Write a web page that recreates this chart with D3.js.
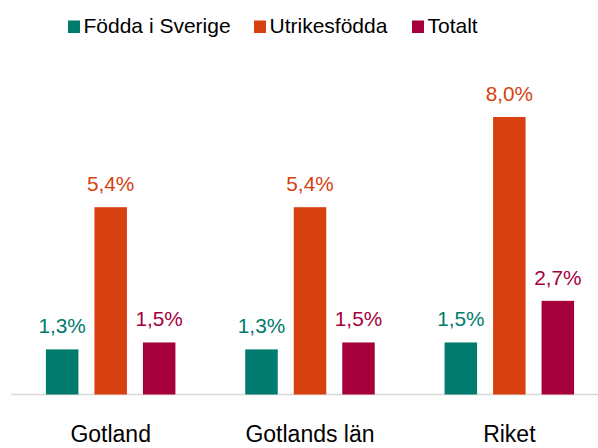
<!DOCTYPE html>
<html>
<head>
<meta charset="utf-8">
<script src="https://cdn.jsdelivr.net/npm/d3@7"></script>
<style>
  body { margin: 0; background: #fff; }
  text { font-family: "Liberation Sans", Arial, sans-serif; }
</style>
</head>
<body>
<svg id="chart" width="598" height="448"></svg>
<script>
const categories = ["Gotland", "Gotlands län", "Riket"];
const seriesNames = ["Födda i Sverige", "Utrikesfödda", "Totalt"];
const fodda = [1.3, 1.3, 1.5];
const utrikes = [5.4, 5.4, 8.0];
const totalt = [1.5, 1.5, 2.7];
const colors = ["#007B6E", "#D7410F", "#A6003C"];

const series = [fodda, utrikes, totalt];
const svg = d3.select("#chart");

const baseline = 394.5;
const x = d3.scaleBand().domain(categories).range([11, 609]);
// inner band for the three bars of a group
const groupW = 129.5;
const xInner = d3.scaleBand().domain(seriesNames).range([0, groupW]).paddingInner(0.33);
const y = d3.scaleLinear().domain([0, 8]).range([baseline, 117]);

// axis line
svg.append("line")
  .attr("x1", 11).attr("x2", 598)
  .attr("y1", baseline).attr("y2", baseline)
  .attr("stroke", "#d9d9d9").attr("stroke-width", 1.5);

const groups = svg.selectAll("g.grp")
  .data(categories)
  .join("g")
  .attr("class", "grp")
  .attr("transform", d => `translate(${x(d) + x.bandwidth() / 2 - groupW / 2},0)`);

seriesNames.forEach((s, si) => {
  groups.append("rect")
    .attr("x", xInner(s))
    .attr("width", xInner.bandwidth())
    .attr("y", (d, i) => y(series[si][i]))
    .attr("height", (d, i) => baseline - y(series[si][i]))
    .attr("fill", colors[si]);
  groups.append("text")
    .attr("x", xInner(s) + xInner.bandwidth() / 2)
    .attr("y", (d, i) => y(series[si][i]) - 16)
    .attr("text-anchor", "middle")
    .attr("font-size", "20.8px")
    .attr("fill", colors[si])
    .text((d, i) => series[si][i].toFixed(1).replace(".", ",") + "%");
});

// category labels
svg.selectAll("text.cat")
  .data(categories)
  .join("text")
  .attr("class", "cat")
  .attr("x", d => x(d) + x.bandwidth() / 2)
  .attr("y", 442)
  .attr("text-anchor", "middle")
  .attr("font-size", "23px")
  .attr("fill", "#000")
  .text(d => d);

// legend
const legendX = [68, 254, 412];
const legend = svg.selectAll("g.leg")
  .data(seriesNames)
  .join("g")
  .attr("class", "leg")
  .attr("transform", (d, i) => `translate(${legendX[i]},0)`);
legend.append("rect")
  .attr("x", 0).attr("y", 20.5)
  .attr("width", 12).attr("height", 12.5)
  .attr("fill", (d, i) => colors[i]);
legend.append("text")
  .attr("x", 15.5).attr("y", 33)
  .attr("font-size", "21px")
  .attr("fill", "#000")
  .text(d => d);
</script>
</body>
</html>
